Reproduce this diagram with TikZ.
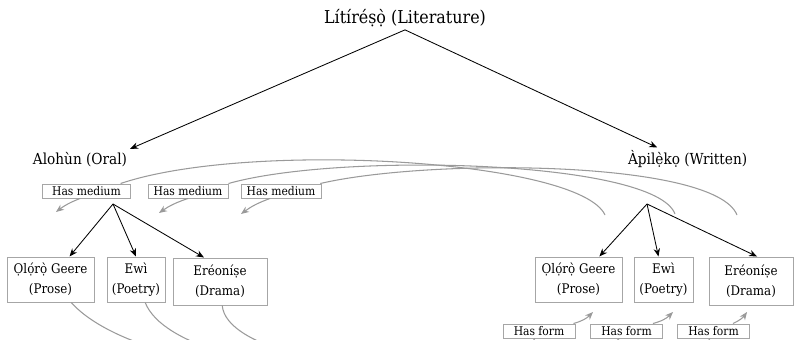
\documentclass[tikz,border=0pt]{standalone}
\usepackage{fontspec}
\setmainfont{DejaVu Serif Condensed}
\definecolor{linkgray}{HTML}{9A9A9A}
\definecolor{boxgray}{HTML}{A6A6A6}
\usetikzlibrary{arrows.meta,positioning}
\tikzset{
    rootlabel/.style={
        inner sep=2pt,
        font=\fontsize{12.6}{15}\selectfont
    },
    branchlabel/.style={
        inner sep=2pt,
        font=\fontsize{10.8}{13}\selectfont
    },
    genrebox/.style={
        draw=boxgray,
        line width=0.7pt,
        align=center,
        inner sep=1pt,
        minimum height=1.125cm,
        font=\fontsize{9.4}{14}\selectfont
    },
    relationbox/.style={
        draw=boxgray,
        fill=white,
        line width=0.7pt,
        inner xsep=2pt,
        inner ysep=0pt,
        minimum width=2.0cm,
        minimum height=0.35cm,
        font=\fontsize{8.5}{9}\selectfont
    },
    treearrow/.style={
        -{Stealth[length=2mm,width=1.6mm]},
        draw=black,
        line width=0.6pt
    },
    relationline/.style={
        draw=linkgray,
        line width=0.75pt
    },
    relationarrow/.style={
        relationline,
        -{Stealth[length=2mm,width=1.6mm]}
    }
}
\begin{document}
\begin{tikzpicture}
    \useasboundingbox (0,0) rectangle (19.975,-8.5);
    \clip (0,0) rectangle (19.975,-8.5);

    % top level
    \node[rootlabel] (literature) at (10.125,-0.45) {Lítíréṣọ̀ (Literature)};
    \node[branchlabel] (oral) at (2.0,-3.98) {Alohùn (Oral)};
    \node[branchlabel] (written) at (17.19,-3.98) {Àpilẹ̀kọ (Written)};

    \draw[treearrow] (literature.south) -- (oral.north east);
    \draw[treearrow] (literature.south) -- ([xshift=-0.76cm]written.north);

    % forks under the two branches
    \coordinate (oralfork) at (2.825,-5.1);
    \coordinate (writtenfork) at (16.175,-5.1);

    % genres
    \node[genrebox,minimum width=2.175cm] (oralprose) at (1.2625,-6.9875)
        {Ọlọ́rọ̀ Geere\\(Prose)};
    \node[genrebox,minimum width=1.45cm] (oralpoetry) at (3.4,-6.9875)
        {Ewì\\(Poetry)};
    \node[genrebox,minimum width=2.35cm,minimum height=1.175cm] (oraldrama) at (5.5,-7.0375)
        {Eréoníṣe\\(Drama)};
    \node[genrebox,minimum width=2.175cm] (writtenprose) at (14.4625,-6.9875)
        {Ọlọ́rọ̀ Geere\\(Prose)};
    \node[genrebox,minimum width=1.475cm] (writtenpoetry) at (16.5875,-6.9875)
        {Ewì\\(Poetry)};
    \node[genrebox,minimum width=2.1cm,minimum height=1.2cm] (writtendrama) at (18.775,-7.025)
        {Eréoníṣe\\(Drama)};

    \draw[treearrow] (oralfork) -- (oralprose);
    \draw[treearrow] (oralfork) -- (oralpoetry.north);
    \draw[treearrow] (oralfork) -- ([xshift=-0.4cm]oraldrama.north);
    \draw[treearrow] (writtenfork) -- (writtenprose);
    \draw[treearrow] (writtenfork) -- (writtenpoetry);
    \draw[treearrow] (writtenfork) -- ([xshift=0.15cm]writtendrama.north);

    % "Has medium" links
    \node[relationbox,minimum width=2.18cm] (medium1) at (2.1625,-4.775) {Has medium};
    \node[relationbox] (medium2) at (4.7,-4.775) {Has medium};
    \node[relationbox] (medium3) at (7.025,-4.775) {Has medium};

    \coordinate (mediumfrom1) at (15.125,-5.375);
    \coordinate (mediumfrom2) at (16.875,-5.35);
    \coordinate (mediumfrom3) at (18.425,-5.375);
    \coordinate (mediumto1) at (1.4,-5.3);
    \coordinate (mediumto2) at (3.975,-5.325);
    \coordinate (mediumto3) at (6.025,-5.35);

    \draw[relationline] (mediumfrom1) .. controls (14.5,-4.0) and (6.25,-3.5) ..
        ([xshift=-0.25cm]medium1.north east);
    \draw[relationline] (mediumfrom2) .. controls (16.375,-4.0) and (8.5,-3.8) ..
        (medium2.north east);
    \draw[relationline] (mediumfrom3) .. controls (17.875,-4.0) and (10.75,-3.95) ..
        ([xshift=-0.03cm]medium3.north east);

    \draw[relationarrow] ([xshift=-0.16cm]medium1.south) to[bend right=8] (mediumto1);
    \draw[relationarrow] (medium2.south) to[bend right=8] (mediumto2);
    \draw[relationarrow] ([xshift=-0.275cm]medium3.south) to[bend right=8] (mediumto3);

    % "Has form" links
    \node[relationbox,minimum width=1.8cm] (form1) at (13.475,-8.275) {Has form};
    \node[relationbox,minimum width=1.8cm] (form2) at (15.6625,-8.275) {Has form};
    \node[relationbox,minimum width=1.8cm] (form3) at (17.8375,-8.275) {Has form};

    \coordinate (formto1) at (14.825,-7.8);
    \coordinate (formto2) at (16.825,-7.8);
    \coordinate (formto3) at (18.675,-7.8);

    \draw[relationline] (oralprose) .. controls (3.75,-9.75) and (12.5,-10.0) .. (form1);
    \draw[relationline] (oralpoetry) .. controls (4.5,-9.75) and (14.0,-10.0) .. (form2);
    \draw[relationline] (oraldrama) .. controls (5.75,-9.75) and (17.0,-10.0) .. (form3);

    \draw[relationarrow] ([xshift=-0.05cm]form1.north east) to[bend right=15] (formto1);
    \draw[relationarrow] ([xshift=-0.25cm]form2.north east) to[bend right=15] (formto2);
    \draw[relationarrow] ([xshift=-0.425cm]form3.north east) to[bend right=15] (formto3);
\end{tikzpicture}
\end{document}
